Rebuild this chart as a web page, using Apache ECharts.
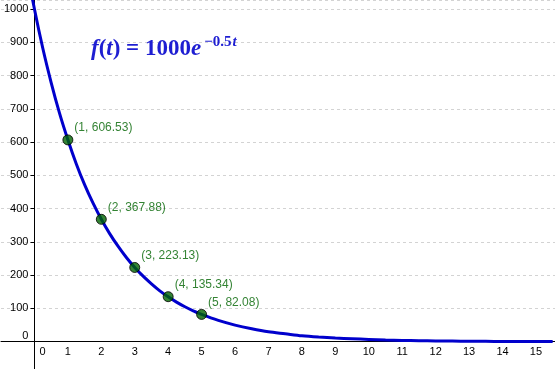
<!DOCTYPE html>
<html>
<head>
<meta charset="utf-8">
<script src="https://cdn.jsdelivr.net/npm/echarts@6/dist/echarts.min.js"></script>
<style>
html,body{margin:0;padding:0;background:#fff;}
#c{width:555px;height:369px;}
</style>
</head>
<body>
<div id="c"></div>
<script>
// Curve samples (t, f(t))
var curveT = [-0.25,0,0.25,0.5,0.75,1,1.25,1.5,1.75,2,2.25,2.5,2.75,3,3.25,3.5,3.75,4,4.25,4.5,4.75,5,5.5,6,6.5,7,7.5,8,8.5,9,9.5,10,10.5,11,11.5,12,12.5,13,13.5,14,14.5,15,15.5];
var curveV = [1133,1000,882,779,687,607,535,472,417,368,325,287,253,223,197,174,153,135,119,105,93,82,64,50,39,30,24,18,14,11,9,7,5,4,3,2.5,2,1.5,1.2,0.9,0.7,0.6,0.4];
// Highlighted points
var pointT = [1,2,3,4,5];
var pointV = [606.53,367.88,223.13,135.34,82.08];

var chart = echarts.init(document.getElementById('c'), null, {renderer:'canvas'});
var curveData = curveT.map(function(t,i){return [t, curveV[i]];});
var pointData = pointT.map(function(t,i){return [t, pointV[i]];});

var FONT = 'Liberation Sans, Arial, sans-serif';
var SERIF = 'Liberation Serif, Times New Roman, serif';
var BLUE = '#1e1ed2';
function ts(sz, italic, extra){
  var o = {fontFamily:SERIF,fontWeight:'bold',fontStyle:italic?'italic':'normal',fontSize:sz,fill:BLUE,color:BLUE,verticalAlign:'bottom',lineHeight:26};
  if(extra){for(var k in extra)o[k]=extra[k];}
  return o;
}

// main grid geometry (pixels)
var W = 555, H = 369;
var X_MIN = -1, X_MAX = 15.57, Y_MIN = -100, Y_MAX = 1027;
var gL = 1, gB = -6;
var pxX = (W - gL) / (X_MAX - X_MIN);
var pxY = (H - gB) / (Y_MAX - Y_MIN);
var zeroX = gL + (0 - X_MIN) * pxX;
var zeroY = (Y_MAX - 0) * pxY;

chart.setOption({
  animation:false,
  backgroundColor:'#fff',
  grid:[
    {left:gL,right:0,top:0,bottom:gB,containLabel:false,outerBoundsMode:'none'},
    {left:zeroX,right:0,top:0,bottom:H-zeroY,containLabel:false,outerBoundsMode:'none'}
  ],
  xAxis:[{
    gridIndex:0, type:'value', min:X_MIN, max:X_MAX, interval:1,
    axisLine:{onZero:true,lineStyle:{color:'#000',width:1}},
    axisTick:{show:false}, splitLine:{show:false}, axisLabel:{show:false}
  },{
    gridIndex:1, type:'value', min:0, max:X_MAX, interval:1,
    axisLine:{show:false}, axisTick:{show:false}, splitLine:{show:false},
    axisLabel:{
      color:'#000', fontFamily:FONT, fontSize:11, margin:5,
      formatter:function(v){ if(v===0) return '{z|0}'; return String(v);},
      rich:{z:{padding:[0,0,0,16],fontSize:11,color:'#000',fontFamily:FONT}}
    }
  }],
  yAxis:[{
    gridIndex:0, type:'value', min:Y_MIN, max:Y_MAX, interval:100,
    axisLine:{onZero:true,lineStyle:{color:'#000',width:1}},
    axisTick:{show:false}, axisLabel:{show:false},
    splitLine:{show:true,lineStyle:{color:'#d3d3d3',type:[3,3],width:1}}
  },{
    gridIndex:1, type:'value', min:0, max:Y_MAX, interval:100,
    axisLine:{show:false}, splitLine:{show:false},
    axisTick:{show:true,length:4,lineStyle:{color:'#000'}},
    axisLabel:{
      color:'#000', fontFamily:FONT, fontSize:11, margin:6,
      formatter:function(v){ if(v===0) return '{z|0}'; return String(v);},
      rich:{z:{padding:[0,0,12,0],fontSize:11,color:'#000',fontFamily:FONT}}
    }
  }],
  graphic:[{
    type:'text', left:91, top:35, z:100,
    style:{
      text:'{i|f}{u|(}{i|t}{u|) = 1000}{i|e}{su|\u22120.5}{si|t}',
      rich:{
        i:ts(23,true),
        u:ts(23,false),
        su:ts(15,false,{verticalAlign:'top',padding:[0,0,12,3]}),
        si:ts(15,true,{verticalAlign:'top',padding:[0,0,12,1]})
      }
    }
  }],
  series:[
    {
      type:'line', xAxisIndex:0, yAxisIndex:0, data:curveData, smooth:0.3, showSymbol:false,
      lineStyle:{color:'#0000cc',width:3}, clip:true, z:2
    },
    {
      type:'scatter', xAxisIndex:0, yAxisIndex:0, data:pointData, symbolSize:10,
      itemStyle:{color:'#006400',borderColor:'#000',borderWidth:1},
      label:{show:true,position:'right',distance:1,offset:[0,-12],
        color:'#006400',fontFamily:FONT,fontSize:12,
        formatter:function(p){return '('+p.value[0]+', '+p.value[1].toFixed(2)+')';}},
      z:3
    }
  ]
});
</script>
</body>
</html>
